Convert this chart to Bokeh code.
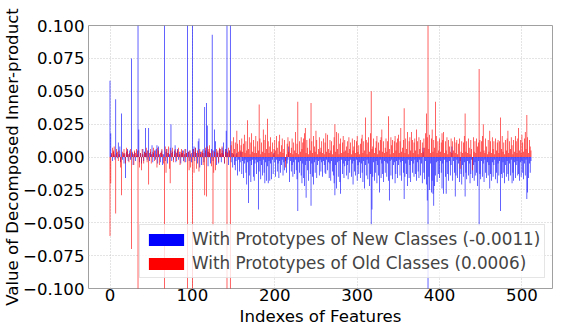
from bokeh.plotting import figure
from bokeh.models import (Range1d, FixedTicker, CustomJSTickFormatter, Legend,
                          LegendItem, ColumnDataSource)
from bokeh.embed import file_html
from bokeh.resources import INLINE

FONT = "DejaVu Sans"

# feature indexes 0..511
feature_index = list(range(512))

# values, in thousandths (1 = 0.001); bars beyond +/-0.1 are clipped
new_classes_milli = [
    58, 18, 2, -3, 4, 1, -2, 44, 3, -1, 11, 2, 8, -4, 33, -2,            # 0
    3, -5, 2, -16, 4, 6, -3, 2, 5, -2, 75, 3, -6, 2, 4, -3,              # 16
    1, 5, 150, 21, -4, 3, -5, 2, 6, -3, 4, 22, 3, -2, 5, 22,             # 32
    -3, 4, 2, 9, -4, 3, 5, -2, 6, 9, -5, 8, 2, -4, 3, 5,                 # 48
    -6, 2, 150, -3, 4, 6, -5, 3, 2, 7, 25, -3, 4, -2, 5, 9,              # 64
    -4, 3, 6, -2, 4, 2, -5, 3, 5, -3, 2, 6, -4, 3, 150, 4,               # 80
    -3, 5, 2, -4, 150, 6, 8, -3, 7, 3, -5, 12, 14, -8, 4, -6,            # 96
    3, 6, -4, 38, 5, 41, 24, -7, 4, 3, -5, 6, 93, -3, 5, 21,             # 112
    12, -6, 4, 3, -5, 6, 2, -4, 7, 3, 11, -5, 6, 20, 150, 4,             # 128
    -6, 5, 150, -4, 3, -8, 2, -6, -10, -3, 3, -14, -2, -11, -4, 4,       # 144
    -13, -3, -16, -5, -2, -12, -21, -4, -35, -14, -3, -19, -6, -2, -15, -18,    # 160
    -5, -2, -13, -4, -40, -11, -3, -17, -6, -14, -2, -12, -20, -4, -18, -7,     # 176
    -20, -3, -18, -5, -17, -2, -13, 3, -4, -15, -2, -11, -5, -16, -3, -12,      # 192
    -6, -2, -14, -4, -10, -3, -12, -5, -2, 8, -19, -3, -11, -6, -15, -4,        # 208
    -13, -2, -10, -17, -41, -4, -12, -3, -14, -20, -5, -16, -22, -6, -31, -3,   # 224
    -10, -18, -3, -13, -37, -5, -15, -21, -4, -12, -2, -16, -6, -3, -14, -2,    # 240
    -11, -4, -15, -3, -6, -12, -13, -2, -10, -4, -16, -5, -18, -3, -11, -14,    # 256
    -20, -29, -6, -24, -4, -15, -3, -19, -28, -2, -13, -5, -16, -7, -3, -14,    # 272
    -6, -17, -3, -12, -2, -15, -5, -21, -3, -11, -14, -2, -18, -6, -13, -4,     # 288
    -16, -5, -12, -19, -3, -24, -6, -14, -2, -17, -5, -22, -13, -52, -40, -15,  # 304
    -4, -18, -12, -3, -20, -6, -14, -27, -2, -16, -5, -13, -19, -3, -12, -4,    # 320
    -15, -5, -18, -33, -3, -14, -2, -17, -6, -4, -20, -13, -3, -16, -6, -2,     # 336
    -14, -4, -18, -3, -12, -32, -15, -5, -13, -22, -2, -16, -6, -19, -3, -12,   # 352
    -5, -15, -2, -13, -18, -4, -11, -16, -2, -14, -5, -20, 7, -12, -17, -3,     # 368
    -21, -33, -150, -15, -25, -5, -27, -18, -28, -37, -22, -14, -4, -19, -3, -13,  # 384
    -16, -3, -12, -24, -5, -28, -2, -15, -28, -4, -13, -18, -3, -14, -6, 8,     # 400
    -18, -3, -12, -30, -14, -2, -16, -5, -19, -3, -13, -21, -6, -15, -4, -30,   # 416
    -12, -17, -3, -14, -5, -20, -13, -2, -16, -6, -18, -4, -14, -12, -22, -3,   # 432
    -52, -13, -17, -3, -15, -5, -19, -2, -12, -16, -4, -14, -6, -24, -13, -18,  # 448
    -4, -15, -6, -2, -17, -12, -20, -5, -14, -3, -41, -13, -16, -4, -12, -20,   # 464
    -6, -15, -3, -13, -18, -5, -14, -2, -20, -12, -18, -4, -16, -6, -3, -14,    # 480
    -13, -18, -4, -15, -3, -12, -17, -5, -14, -2, -32, -27, -16, -5, -12, -3,   # 496
]

old_classes_milli = [
    -60, -20, 3, 7, 5, 8, 2, -43, 6, 4, -3, 5, 2, -8, -29, 4,            # 0
    2, 6, 3, -5, 7, 5, 2, -4, 3, 6, -70, 4, 2, -6, 5, 3,                 # 16
    6, 2, -150, 5, -8, 3, -10, 6, 2, -5, 4, 3, 7, -4, 5, -21,            # 32
    3, 6, -5, 2, 4, 7, -3, 5, 2, -8, 7, 5, -6, 3, 4, 6,                  # 48
    2, -5, -150, 8, -12, 6, 3, 8, -9, -20, 5, 3, 7, -4, 2, 6,            # 64
    4, -3, 5, 7, 2, -6, 4, 6, 3, 5, -4, 2, 6, 3, -150, 4,                # 80
    -10, 5, -8, 3, -150, 6, -12, 4, 7, -9, 5, 3, -11, 6, 2, 4,           # 96
    5, -6, 3, -29, 7, -30, 8, 4, 6, 9, 3, -7, 5, -52, -12, 4,            # 112
    -10, 6, 3, 5, -4, 7, 6, 3, 8, 5, 2, -5, 4, 6, -150, 3,               # 128
    7, 5, -150, 9, 12, 3, 15, 6, 11, 2, 20, 10, 4, 13, 5, 9,             # 144
    14, 4, 10, 17, 3, 12, 5, 28, 6, 15, 2, 11, 18, 4, 13, 3,             # 160
    8, 16, 3, 12, 5, 40, 14, 2, 11, 4, 21, 13, 3, 17, 6, 29,             # 176
    12, 3, 8, 15, 4, 11, 2, 6, 13, 5, 16, 7, 2, 12, 17, 4,               # 192
    9, 14, 3, 6, 13, -8, 2, 10, 15, 4, 12, 3, 7, 14, 2, 11,              # 208
    5, 19, 3, 10, 42, 2, 12, 4, 15, 6, 11, 14, 18, 22, 3, 13,            # 224
    7, 2, 14, 5, 41, 12, 3, 16, 8, 4, 20, 13, 2, 6, 15, 4,               # 240
    7, 12, 3, 14, 2, 11, 18, 4, 17, 6, 3, 13, 5, 12, 2, 9,               # 256
    15, 25, 4, 19, 6, 18, 2, 10, 14, 3, 11, 16, 4, 13, 5, 8,             # 272
    12, 3, 15, 6, 11, 2, 14, 5, 8, 13, 3, 12, 16, 4, 9, 2,               # 288
    10, 14, 17, 3, 12, 5, 30, 13, 2, 11, 15, 4, 18, 50, 6, 8,            # 304
    14, 3, 7, 12, 16, 2, 11, 5, 13, 15, 21, 4, 12, 3, 7, 14,             # 320
    4, 12, 31, 6, 2, 15, 9, 13, 3, 12, 16, 5, 11, 14, 17, 3,             # 336
    12, 22, 4, 7, 13, 37, 3, 14, 6, 19, 2, 12, 15, 5, 19, 13,            # 352
    3, 11, 14, 5, 21, 12, 2, 15, 6, 13, 3, 11, 4, 14, 7, 18,             # 368
    33, 15, 150, 6, 17, 3, 14, 21, 4, 13, 7, 42, 16, 3, 12, 5,           # 384
    14, 4, 11, 18, 13, 19, 3, 12, 5, 15, 2, 13, 8, 4, 14, 3,             # 400
    12, 5, 15, 3, 11, 13, 2, 10, 14, -9, 4, 12, 3, 11, 16, 33,           # 416
    4, 12, 3, 14, 7, 2, 13, 6, -10, 15, 4, 12, 3, 14, 8, 11,             # 432
    67, 13, 4, 12, 16, 25, 5, 3, 14, 8, 2, 13, 4, 20, 12, 3,             # 448
    15, 6, 12, 2, 14, 5, 11, 13, 3, 12, 30, 6, 16, 4, 11, 2,             # 464
    13, 5, 14, 20, 3, 12, 6, 15, 9, 2, 13, 4, 16, 12, 3, 14,             # 480
    22, 5, 13, 3, 17, 11, 4, 14, 19, 6, 32, 15, 3, 13, 8, 5,             # 496
]
assert len(new_classes_milli) == 512 and len(old_classes_milli) == 512

x_ticks = [0, 100, 200, 300, 400, 500]
y_ticks = [-0.1, -0.075, -0.05, -0.025, 0.0, 0.025, 0.05, 0.075, 0.1]
legend_labels = ["With Prototypes of New Classes (-0.0011)",
                 "With Prototypes of Old Classes (0.0006)"]
x_label = "Indexes of Features"
y_label = "Value of Decomposed Inner-product"

source = ColumnDataSource(dict(
    x=feature_index,
    new=[v / 1000 for v in new_classes_milli],
    old=[v / 1000 for v in old_classes_milli],
))

p = figure(width=558, height=329,
           x_range=Range1d(-26.1, 537.1), y_range=Range1d(-0.1, 0.1),
           output_backend="svg", toolbar_location=None,
           min_border_left=81, min_border_right=6,
           min_border_top=25, min_border_bottom=41)
p.background_fill_color = "white"
p.border_fill_color = "white"
p.outline_line_color = "#a0a0a0"
p.outline_line_width = 1

rb = p.vbar(x="x", top="new", bottom=0, width=0.75, source=source,
            fill_color="#0000ff", line_color=None)
rr = p.vbar(x="x", top="old", bottom=0, width=0.75, source=source,
            fill_color="#ff0000", line_color=None)

p.xaxis.ticker = FixedTicker(ticks=x_ticks)
p.yaxis.ticker = FixedTicker(ticks=y_ticks)
p.yaxis.formatter = CustomJSTickFormatter(
    code="return (tick < -1e-9 ? '\u2212' : '') + Math.abs(tick).toFixed(3);")

for ax in (p.xaxis[0], p.yaxis[0]):
    ax.axis_line_color = None
    ax.major_tick_line_color = None
    ax.minor_tick_line_color = None
    ax.major_tick_out = 0
    ax.major_tick_in = 0
    ax.major_label_text_font = FONT
    ax.major_label_text_font_size = "16.6px"
    ax.major_label_text_color = "black"
    ax.axis_label_text_font = FONT
    ax.axis_label_text_font_size = "16.6px"
    ax.axis_label_text_font_style = "normal"
    ax.axis_label_text_color = "black"

p.xaxis.axis_label = x_label
p.yaxis.axis_label = y_label
p.xaxis.major_label_standoff = 0
p.xaxis.axis_label_standoff = 3
p.yaxis.major_label_standoff = 4
p.yaxis.axis_label_standoff = -2

p.grid.grid_line_color = "#c8c8c8"
p.grid.grid_line_dash = "1 2"
p.grid.grid_line_width = 1

legend = Legend(items=[LegendItem(label=legend_labels[0], renderers=[rb]),
                       LegendItem(label=legend_labels[1], renderers=[rr])],
                location=(51, 10))
legend.label_text_font = FONT
legend.label_text_font_size = "16.8px"
legend.glyph_width = 44
legend.glyph_height = 15
legend.label_standoff = 4
legend.padding = 4
legend.spacing = 4
legend.margin = 0
legend.border_line_color = "#cccccc"
legend.border_line_width = 1
legend.background_fill_alpha = 0.8
p.add_layout(legend)

open("out.html", "w").write(file_html(p, INLINE))
